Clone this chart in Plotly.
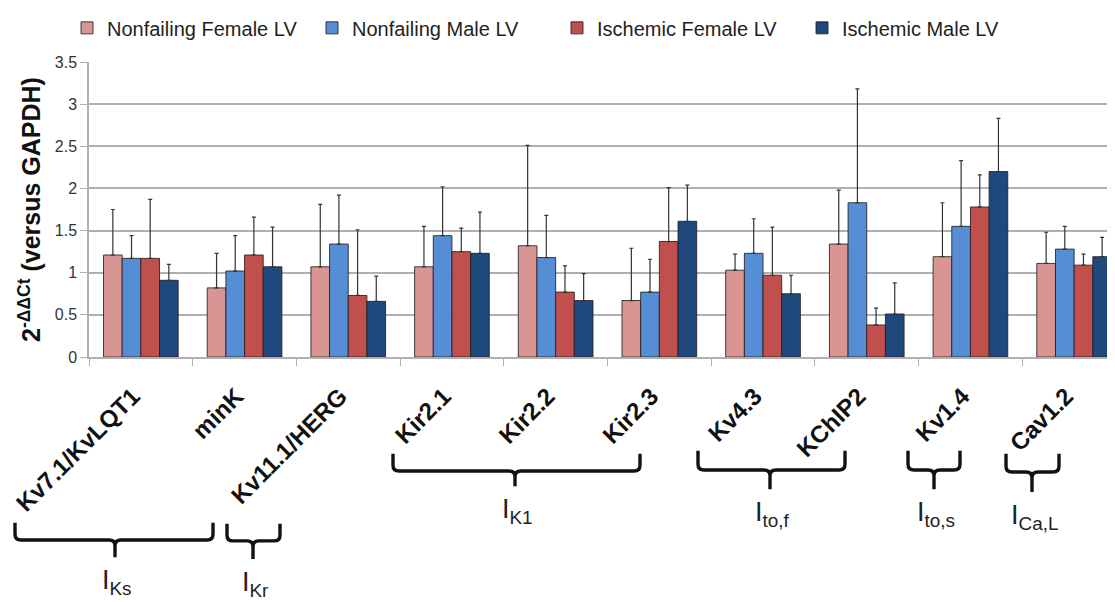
import plotly.graph_objects as go

# ---------------- data ----------------
categories = ["Kv7.1/KvLQT1", "minK", "Kv11.1/HERG", "Kir2.1", "Kir2.2",
              "Kir2.3", "Kv4.3", "KChIP2", "Kv1.4", "Cav1.2"]

series_names = ["Nonfailing Female LV", "Nonfailing Male LV",
                "Ischemic Female LV", "Ischemic Male LV"]

nf_female = [1.21, 0.82, 1.07, 1.07, 1.32, 0.67, 1.03, 1.34, 1.19, 1.11]
nf_male = [1.17, 1.02, 1.34, 1.44, 1.18, 0.77, 1.23, 1.83, 1.55, 1.28]
isc_female = [1.17, 1.21, 0.73, 1.25, 0.77, 1.37, 0.97, 0.38, 1.78, 1.09]
isc_male = [0.91, 1.07, 0.66, 1.23, 0.67, 1.61, 0.75, 0.51, 2.20, 1.19]

nf_female_err = [0.54, 0.41, 0.74, 0.48, 1.19, 0.62, 0.19, 0.64, 0.64, 0.37]
nf_male_err = [0.27, 0.42, 0.58, 0.58, 0.50, 0.39, 0.41, 1.35, 0.78, 0.27]
isc_female_err = [0.70, 0.45, 0.78, 0.28, 0.31, 0.64, 0.57, 0.20, 0.38, 0.13]
isc_male_err = [0.19, 0.47, 0.30, 0.49, 0.32, 0.43, 0.22, 0.37, 0.63, 0.23]

y_ticks = [0, 0.5, 1, 1.5, 2, 2.5, 3, 3.5]
y_tick_labels = ["0", "0.5", "1", "1.5", "2", "2.5", "3", "3.5"]

# current-group labels (text) for the braces
group_labels = ["I<sub>Ks</sub>", "I<sub>Kr</sub>", "I<sub>K1</sub>",
                "I<sub>to,f</sub>", "I<sub>to,s</sub>", "I<sub>Ca,L</sub>"]

# ---------------- styling / layout ----------------
OFF = 8                      # page body margin offset of the plot div
W, H = 1115 - OFF, 602 - OFF
ML, MR, MT = 89 - OFF, 0, 49 - OFF
MB = H - (357 - OFF)
colors = ["#d99594", "#558ed5", "#c0504d", "#1f497d"]
FONT = "Liberation Sans, Arial, sans-serif"

values = [nf_female, nf_male, isc_female, isc_male]
errors = [nf_female_err, nf_male_err, isc_female_err, isc_male_err]

fig = go.Figure()
for name, vals, errs, col in zip(series_names, values, errors, colors):
    fig.add_trace(go.Bar(
        name=name, x=categories, y=vals,
        marker=dict(color=col, line=dict(color="rgba(40,30,30,0.85)", width=1)),
        error_y=dict(type="data", symmetric=False, array=errs,
                     arrayminus=[0] * len(errs), color="#333333",
                     thickness=1.2, width=2),
    ))

# brace layout in screen pixel coordinates:
# (x_left, x_right, y_top, y_bar, y_stem, x_center)
brace_px = [(15, 213, 530, 548, 566, 115),
            (227, 280, 531, 549, 568, 253),
            (393, 640, 458, 476, 492, 515),
            (698, 845, 455, 475, 495, 770),
            (908, 960, 455, 475, 495, 934),
            (1006, 1059, 458, 477, 498, 1032)]

pw = W - ML - MR
ph = H - MT - MB


def px(x):
    return (x - OFF - ML) / pw


def py(y):
    return (H - MB - (y - OFF)) / ph


shapes = []
annotations = []
for lab, (x0, x1, yt, yb, ys, xc) in zip(group_labels, brace_px):
    r = 6
    pts = [
        ("M", [(x0, yt)]), ("L", [(x0, yb - r)]), ("Q", [(x0, yb), (x0 + r, yb)]),
        ("L", [(xc - r, yb)]), ("Q", [(xc, yb), (xc, yb + r)]), ("L", [(xc, ys)]),
        ("M", [(xc, yb + r)]), ("Q", [(xc, yb), (xc + r, yb)]),
        ("L", [(x1 - r, yb)]), ("Q", [(x1, yb), (x1, yb - r)]), ("L", [(x1, yt)]),
    ]
    d = " ".join(cmd + " " + " ".join(f"{px(a):.5f},{py(b):.5f}" for a, b in p)
                 for cmd, p in pts)
    shapes.append(dict(type="path", xref="paper", yref="paper", path=d,
                       line=dict(color="#111111", width=3.4)))
    annotations.append(dict(text=lab, xref="paper", yref="paper",
                            x=px(xc + 2), y=py(ys + 6), xanchor="center",
                            yanchor="top", showarrow=False,
                            font=dict(family=FONT, size=27, color="#222222")))

fig.update_layout(
    width=W, height=H,
    margin=dict(l=ML, r=MR, t=MT, b=MB, pad=0),
    paper_bgcolor="white", plot_bgcolor="white",
    barmode="group", bargap=0.28, bargroupgap=0,
    font=dict(family=FONT, color="#222222"),
    legend=dict(orientation="h", xref="paper", yref="paper",
                x=px(67), y=py(-7), xanchor="left", yanchor="top",
                font=dict(family=FONT, size=20, color="#222222"),
                itemwidth=30, traceorder="normal",
                entrywidth=200, entrywidthmode="pixels"),
    xaxis=dict(range=[-0.5, 9.394], showline=True, linecolor="#b0b0b0",
               linewidth=1.5, ticks="outside", ticklen=7, tickcolor="#b0b0b0",
               tickson="boundaries", tickangle=-45, ticklabelstandoff=14,
               ticklabelshift=-8,
               tickfont=dict(family=FONT, size=24, color="#111111",
                             weight="bold"),
               showgrid=False, zeroline=False, automargin=False),
    yaxis=dict(range=[0, 3.5], tickvals=y_ticks, ticktext=y_tick_labels,
               showline=True, linecolor="#b0b0b0", linewidth=1.5,
               ticks="outside", ticklen=7, tickcolor="#b0b0b0",
               showgrid=True, gridcolor="#b0b0b0", gridwidth=1.5,
               zeroline=False, automargin=False,
               tickfont=dict(family=FONT, size=16, color="#333333"),
               title=dict(text="<b>2<sup>-ΔΔCt</sup> (versus GAPDH)</b>",
                          font=dict(family=FONT, size=25, color="#111111"),
                          standoff=7)),
    shapes=shapes, annotations=annotations,
)

fig.write_html("out.html")
